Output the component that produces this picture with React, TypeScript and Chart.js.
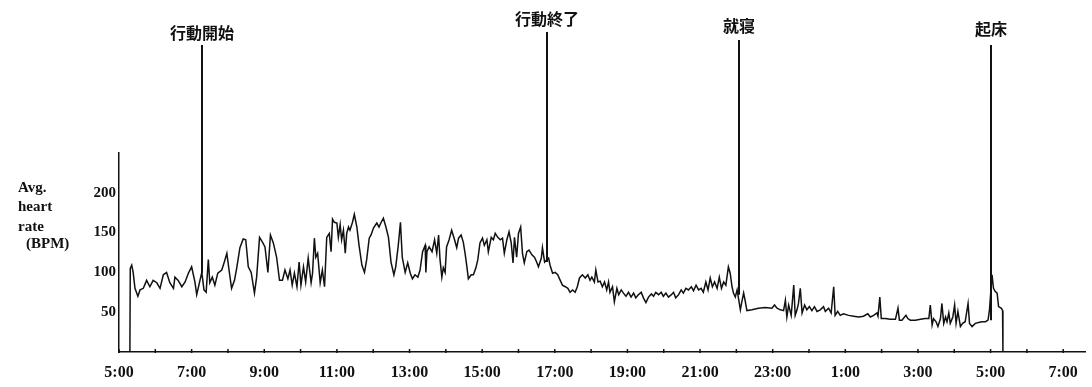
import React, { useEffect, useRef } from 'react';
import { Chart, registerables } from 'chart.js';

Chart.register(...registerables);

// Time of day in hours (values above 24 are the next morning)
const times = [
  5.30, 5.31, 5.35, 5.39, 5.44, 5.52, 5.58, 5.67, 5.76, 5.85, 5.94, 6.04, 6.13, 6.22, 6.31, 6.40, 6.50, 6.54, 6.63, 6.73,
  6.82, 6.91, 7.00, 7.09, 7.14, 7.20, 7.28, 7.34, 7.40, 7.46, 7.50, 7.57, 7.64, 7.72, 7.83, 7.90, 7.97, 8.03, 8.10, 8.18,
  8.24, 8.33, 8.42, 8.49, 8.56, 8.64, 8.73, 8.79, 8.87, 8.95, 9.02, 9.10, 9.17, 9.25, 9.34, 9.42, 9.50, 9.57, 9.65, 9.71,
  9.77, 9.83, 9.90, 9.96, 10.01, 10.08, 10.14, 10.21, 10.29, 10.33, 10.38, 10.42, 10.47, 10.54, 10.60, 10.66, 10.72, 10.79, 10.84, 10.88,
  10.93, 11.00, 11.04, 11.09, 11.13, 11.18, 11.23, 11.27, 11.32, 11.36, 11.43, 11.48, 11.55, 11.61, 11.69, 11.76, 11.82, 11.89, 11.94, 12.01,
  12.10, 12.16, 12.22, 12.28, 12.35, 12.42, 12.49, 12.57, 12.62, 12.69, 12.75, 12.80, 12.88, 12.95, 13.02, 13.08, 13.15, 13.23, 13.29, 13.36,
  13.43, 13.45, 13.48, 13.54, 13.62, 13.69, 13.75, 13.80, 13.84, 13.89, 13.93, 13.98, 14.02, 14.09, 14.16, 14.24, 14.30, 14.35, 14.42, 14.48,
  14.53, 14.58, 14.62, 14.70, 14.76, 14.83, 14.88, 14.94, 15.01, 15.06, 15.13, 15.17, 15.25, 15.31, 15.36, 15.43, 15.50, 15.56, 15.61, 15.68,
  15.74, 15.80, 15.85, 15.89, 15.95, 16.00, 16.06, 16.11, 16.16, 16.23, 16.29, 16.37, 16.44, 16.50, 16.55, 16.63, 16.66, 16.72, 16.78, 16.83,
  16.87, 16.94, 17.01, 17.08, 17.15, 17.21, 17.29, 17.36, 17.42, 17.49, 17.56, 17.62, 17.68, 17.76, 17.84, 17.91, 17.97, 18.02, 18.09, 18.13,
  18.19, 18.25, 18.31, 18.37, 18.43, 18.48, 18.52, 18.59, 18.64, 18.71, 18.76, 18.83, 18.89, 18.96, 19.03, 19.10, 19.17, 19.23, 19.30, 19.38,
  19.44, 19.51, 19.58, 19.66, 19.72, 19.78, 19.86, 19.93, 19.99, 20.06, 20.13, 20.21, 20.27, 20.33, 20.41, 20.48, 20.54, 20.61, 20.68, 20.76,
  20.82, 20.89, 20.96, 21.03, 21.09, 21.16, 21.22, 21.28, 21.34, 21.40, 21.47, 21.53, 21.59, 21.65, 21.71, 21.78, 21.83, 21.88, 21.92, 21.97,
  22.02, 22.06, 22.11, 22.15, 22.20, 22.24, 22.29, 22.43, 22.61, 22.79, 22.98, 23.05, 23.12, 23.21, 23.30, 23.35, 23.39, 23.44, 23.51, 23.58,
  23.62, 23.67, 23.71, 23.76, 23.81, 23.88, 23.94, 24.01, 24.08, 24.15, 24.22, 24.31, 24.40, 24.45, 24.54, 24.61, 24.68, 24.72, 24.79, 24.86,
  24.95, 25.09, 25.23, 25.37, 25.50, 25.62, 25.69, 25.78, 25.87, 25.90, 25.95, 25.99, 26.10, 26.24, 26.38, 26.45, 26.49, 26.56, 26.63, 26.67,
  26.72, 26.79, 26.93, 27.07, 27.20, 27.30, 27.34, 27.39, 27.43, 27.50, 27.55, 27.62, 27.66, 27.71, 27.76, 27.80, 27.85, 27.89, 27.96, 28.01,
  28.05, 28.10, 28.17, 28.23, 28.30, 28.38, 28.42, 28.49, 28.58, 28.67, 28.76, 28.86, 28.93, 28.97, 29.04, 29.08, 29.13, 29.18, 29.22, 29.30,
  29.33, 29.34,
];

// Average heart rate (BPM) at each time above
const bpm = [
  0, 105, 109, 100, 80, 70, 78, 80, 90, 82, 90, 87, 80, 97, 100, 87, 80, 94, 90, 82,
  88, 99, 107, 88, 72, 84, 100, 78, 75, 116, 87, 94, 84, 99, 103, 113, 124, 103, 80, 90,
  105, 131, 142, 141, 107, 100, 74, 94, 144, 138, 132, 100, 147, 137, 119, 90, 90, 103, 92, 103,
  84, 99, 82, 113, 84, 107, 88, 118, 87, 99, 143, 119, 124, 87, 103, 82, 144, 149, 126, 167,
  163, 162, 144, 160, 141, 153, 124, 149, 157, 153, 163, 173, 157, 134, 109, 100, 116, 143, 147, 156,
  162, 157, 163, 168, 157, 144, 113, 97, 107, 134, 163, 119, 100, 112, 99, 92, 97, 94, 103, 126,
  134, 100, 126, 132, 126, 141, 124, 147, 116, 94, 106, 100, 132, 141, 153, 141, 131, 143, 147, 138,
  124, 107, 92, 97, 97, 106, 116, 137, 143, 134, 141, 126, 144, 141, 149, 144, 141, 143, 124, 141,
  151, 137, 112, 144, 119, 149, 157, 124, 112, 126, 128, 122, 119, 113, 107, 118, 131, 113, 116, 118,
  109, 99, 100, 97, 90, 84, 82, 80, 75, 78, 75, 82, 93, 97, 93, 97, 90, 94, 88, 103,
  88, 89, 82, 88, 78, 88, 75, 82, 63, 80, 72, 78, 74, 70, 75, 69, 74, 68, 72, 75,
  68, 62, 69, 73, 70, 75, 72, 75, 70, 74, 69, 72, 75, 68, 72, 78, 74, 80, 78, 82,
  77, 84, 78, 80, 75, 88, 78, 93, 82, 88, 80, 94, 80, 88, 84, 107, 99, 82, 74, 69,
  78, 67, 53, 63, 74, 65, 52, 53, 55, 56, 55, 59, 55, 53, 52, 65, 44, 59, 46, 84,
  46, 53, 61, 80, 49, 59, 53, 57, 52, 57, 51, 53, 57, 51, 55, 49, 82, 46, 51, 46,
  48, 46, 45, 44, 45, 48, 44, 46, 49, 45, 69, 42, 42, 41, 41, 55, 40, 40, 44, 46,
  42, 40, 40, 41, 42, 42, 59, 34, 42, 38, 32, 42, 61, 36, 44, 38, 49, 36, 44, 59,
  36, 51, 32, 36, 38, 61, 36, 32, 36, 37, 38, 38, 40, 53, 97, 80, 76, 74, 57, 55,
  52, 0,
];

const xTickLabels = ['5:00', '7:00', '9:00', '11:00', '13:00', '15:00', '17:00', '19:00', '21:00', '23:00', '1:00', '3:00', '5:00', '7:00'];
const yTickValues = [50, 100, 150, 200];
const yTitleLines = ['Avg.', 'heart', 'rate', '(BPM)'];

const eventLabels = ['行動開始', '行動終了', '就寝', '起床'];
const eventTimes = [7.28, 16.78, 22.08, 29.0];
const eventLineEnds = [99, 113, 72, 40];

const X_MIN = 5;
const X_MAX = 31.6;
const Y_MIN = 0;
const Y_MAX = 250;

// layout (pixels)
const EVENT_LABEL_Y = [33, 19, 26, 29];
const EVENT_LINE_TOP = [45, 32, 40, 45];
const Y_TITLE_POS = [
  [18, 188],
  [18, 207],
  [18, 227],
  [26, 244],
];

const decorPlugin = {
  id: 'decor',
  afterDraw(chart: any) {
    const { ctx, scales } = chart;
    const xs = scales.x;
    const ys = scales.y;
    ctx.save();
    // small hour tick marks on the time axis
    const axisY = ys.getPixelForValue(0);
    ctx.strokeStyle = '#111';
    ctx.lineWidth = 1.5;
    for (let h = Math.ceil(X_MIN); h <= Math.floor(X_MAX); h++) {
      const x = xs.getPixelForValue(h);
      ctx.beginPath();
      ctx.moveTo(x, axisY - 3);
      ctx.lineTo(x, axisY + 1);
      ctx.stroke();
    }
    // event markers
    ctx.lineWidth = 2;
    ctx.fillStyle = '#111';
    ctx.font = 'bold 16px "Noto Sans CJK JP"';
    ctx.textAlign = 'center';
    ctx.textBaseline = 'middle';
    eventLabels.forEach((lab, i) => {
      const x = Math.round(xs.getPixelForValue(eventTimes[i]));
      const yb = ys.getPixelForValue(eventLineEnds[i]);
      ctx.beginPath();
      ctx.moveTo(x, EVENT_LINE_TOP[i]);
      ctx.lineTo(x, yb);
      ctx.stroke();
      ctx.fillText(lab, x, EVENT_LABEL_Y[i]);
    });
    // y axis title
    ctx.font = 'bold 15px "Liberation Serif"';
    ctx.textAlign = 'left';
    yTitleLines.forEach((t, i) => {
      ctx.fillText(t, Y_TITLE_POS[i][0], Y_TITLE_POS[i][1]);
    });
    ctx.restore();
  },
};

export default function App() {
  const canvasRef = useRef<HTMLCanvasElement | null>(null);

  useEffect(() => {
    if (!canvasRef.current) return;
    const points = times.map((t, i) => ({ x: t, y: bpm[i] }));
    const chart = new Chart(canvasRef.current, {
      type: 'line',
      data: {
        datasets: [
          {
            data: points,
            borderColor: '#111',
            borderWidth: 1.5,
            pointRadius: 0,
            tension: 0,
            fill: false,
          },
        ],
      },
      options: {
        animation: false,
        responsive: true,
        maintainAspectRatio: false,
        layout: { padding: { left: 0, right: 7, top: 153, bottom: 0 } },
        plugins: {
          legend: { display: false },
          tooltip: { enabled: false },
          title: { display: false },
        },
        scales: {
          x: {
            type: 'linear',
            min: X_MIN,
            max: X_MAX,
            grid: { display: false, drawTicks: false },
            border: { display: true, color: '#111', width: 1.5 },
            afterBuildTicks: (scale: any) => {
              const arr = [];
              for (let h = X_MIN; h <= Math.floor(X_MAX); h++) arr.push({ value: h });
              scale.ticks = arr;
            },
            afterFit: (scale: any) => {
              scale.height = 35;
            },
            ticks: {
              autoSkip: false,
              maxRotation: 0,
              padding: 11,
              color: '#111',
              font: { family: 'Liberation Serif', size: 16, weight: 'bold' },
              callback: (v: any) => {
                const off = Number(v) - X_MIN;
                return off % 2 === 0 ? xTickLabels[off / 2] : '';
              },
            },
          },
          y: {
            type: 'linear',
            min: Y_MIN,
            max: Y_MAX,
            grid: { display: false, drawTicks: false },
            border: { display: true, color: '#111', width: 1.5 },
            afterBuildTicks: (scale: any) => {
              const arr = [];
              for (let v = Y_MIN; v <= Y_MAX; v += 50) arr.push({ value: v });
              scale.ticks = arr;
            },
            afterFit: (scale: any) => {
              scale.width = 119;
            },
            ticks: {
              padding: 3,
              color: '#111',
              font: { family: 'Liberation Serif', size: 15, weight: 'bold' },
              callback: (v: any) => (yTickValues.includes(Number(v)) ? String(v) : ''),
            },
          },
        },
      },
      plugins: [decorPlugin],
    });
    return () => chart.destroy();
  }, []);

  return (
    <div style={{ position: 'absolute', left: 0, top: 0, width: 1092, height: 387, background: '#fff' }}>
      <canvas ref={canvasRef} />
    </div>
  );
}
